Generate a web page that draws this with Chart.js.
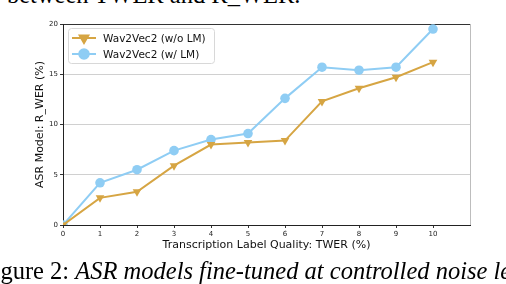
<!DOCTYPE html>
<html>
<head>
<meta charset="utf-8">
<script src="https://cdn.jsdelivr.net/npm/chart.js@4.4.1/dist/chart.umd.min.js"></script>
<style>
  html, body { margin: 0; padding: 0; background: #fff; }
  body { width: 506px; height: 284px; position: relative; overflow: hidden; }
  #chart { position: absolute; left: 0; top: 0; }
  .txt { position: absolute; white-space: nowrap; font-family: "Liberation Serif", "DejaVu Serif", serif; font-size: 24.5px; color: #000; line-height: 1; }
  #top-text { left: 7px; top: -17px; }
  #caption { left: -20px; top: 259px; }
</style>
</head>
<body>
<div class="txt" id="top-text">between TWER and R_WER.</div>
<canvas id="chart" width="506" height="284"></canvas>
<div class="txt" id="caption">Figure 2: <i>ASR models fine-tuned at controlled noise levels</i></div>
<script>
const twer = [0, 1, 2, 3, 4, 5, 6, 7, 8, 9, 10];
const noLm = [0, 2.7, 3.3, 5.9, 8.0, 8.2, 8.4, 12.3, 13.6, 14.7, 16.2];
const withLm = [0, 4.2, 5.5, 7.4, 8.5, 9.1, 12.6, 15.7, 15.4, 15.7, 19.5];
const seriesNames = ['Wav2Vec2 (w/o LM)', 'Wav2Vec2 (w/ LM)'];
const yTicks = [0, 5, 10, 15, 20];

const orange = '#d6a543';
const blue = '#8fcdf4';
const font = 'DejaVu Sans';

// matplotlib style legend (line + marker) drawn inside the plot
const boxLegend = {
    id: 'boxLegend',
    afterDatasetsDraw(chart) {
        const ctx = chart.ctx;
        const x0 = chart.chartArea.left + 5, y0 = chart.chartArea.top + 4;
        ctx.save();
        ctx.fillStyle = 'rgba(255,255,255,0.85)';
        ctx.strokeStyle = '#d8d8d8';
        ctx.lineWidth = 1;
        ctx.beginPath();
        ctx.roundRect(x0 + 0.5, y0 + 0.5, 146, 35, 3);
        ctx.fill();
        ctx.stroke();
        chart.data.datasets.forEach((ds, i) => {
            const cy = y0 + 10 + i * 16;
            ctx.strokeStyle = ds.borderColor;
            ctx.lineWidth = 2;
            ctx.beginPath();
            ctx.moveTo(x0 + 4, cy);
            ctx.lineTo(x0 + 28, cy);
            ctx.stroke();
            Chart.helpers.drawPoint(ctx, {
                pointStyle: ds.pointStyle, rotation: ds.pointRotation || 0,
                radius: ds.pointRadius, borderWidth: 1
            }, x0 + 16, cy);
            ctx.fillStyle = ds.borderColor;
            ctx.fill();
            ctx.fillStyle = '#111';
            ctx.font = '10.5px "' + font + '"';
            ctx.textBaseline = 'middle';
            ctx.fillText(ds.label, x0 + 35, cy + 1);
        });
        ctx.restore();
    }
};

new Chart(document.getElementById('chart'), {
    type: 'line',
    data: {
        datasets: [
            {
                label: seriesNames[0],
                data: twer.map((x, i) => ({ x: x, y: noLm[i] })),
                borderColor: orange, backgroundColor: orange,
                borderWidth: 2, pointStyle: 'triangle', pointRotation: 180,
                pointRadius: 5, pointBorderWidth: 0
            },
            {
                label: seriesNames[1],
                data: twer.map((x, i) => ({ x: x, y: withLm[i] })),
                borderColor: blue, backgroundColor: blue,
                borderWidth: 2, pointStyle: 'circle',
                pointRadius: 4.8, pointBorderWidth: 0
            }
        ]
    },
    options: {
        responsive: false,
        animation: false,
        devicePixelRatio: 1,
        layout: { padding: { top: 24, right: 36, bottom: 32, left: 34 } },
        plugins: { legend: { display: false }, tooltip: { enabled: false } },
        scales: {
            x: {
                type: 'linear', min: 0, max: 11,
                afterFit: s => { s.height = 27; },
                ticks: {
                    stepSize: 1, padding: 2, color: '#222',
                    font: { family: font, size: 7 },
                    callback: v => (v <= 10 ? v : '')
                },
                grid: {
                    color: c => (c.tick && c.tick.value === 11 ? '#bdbdbd' : 'transparent'),
                    tickColor: c => (c.tick && c.tick.value <= 10 ? '#333' : 'transparent'),
                    tickLength: 3
                },
                border: { color: '#222', width: 1 },
                title: {
                    display: true, text: 'Transcription Label Quality: TWER (%)',
                    color: '#111', font: { family: font, size: 11 }, padding: 0
                }
            },
            y: {
                min: 0, max: 20,
                afterFit: s => { s.width = 29; },
                afterBuildTicks: s => { s.ticks = yTicks.map(v => ({ value: v })); },
                ticks: { color: '#222', padding: 2, font: { family: font, size: 7 } },
                grid: {
                    color: c => (c.tick && c.tick.value === 20 ? '#333' : '#d0d0d0'),
                    tickColor: '#333',
                    tickLength: 3
                },
                border: { color: '#222', width: 1 },
                title: {
                    display: true, text: 'ASR Model: R_WER (%)',
                    color: '#111', font: { family: font, size: 11 }, padding: 0
                }
            }
        }
    },
    plugins: [boxLegend]
});
</script>
</body>
</html>
